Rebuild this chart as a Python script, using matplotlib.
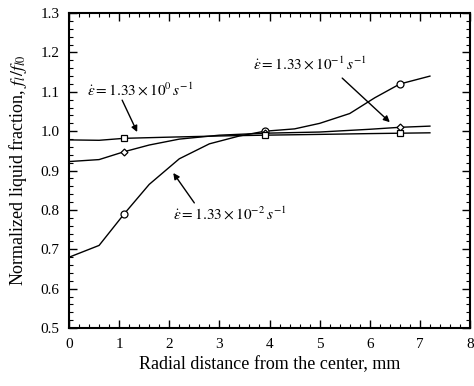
import matplotlib
matplotlib.use('Agg')
import matplotlib.pyplot as plt
from matplotlib.ticker import MultipleLocator, FormatStrFormatter

plt.rcParams['font.family'] = ['Liberation Serif', 'DejaVu Serif']
plt.rcParams['mathtext.fontset'] = 'stix'

# strain rate 1.33e-2 (circles)
x_slow = [0.0, 0.6, 1.1, 1.6, 2.2, 2.8, 3.4, 3.9, 4.5, 5.0, 5.6, 6.1, 6.6, 7.2]
y_slow = [0.68, 0.71, 0.79, 0.865, 0.93, 0.968, 0.988, 1.0, 1.006, 1.02, 1.045, 1.085, 1.12, 1.14]
# strain rate 1.33e-1 (diamonds)
x_mid = [0.0, 0.6, 1.1, 1.6, 2.2, 3.0, 3.9, 5.0, 6.0, 6.6, 7.2]
y_mid = [0.923, 0.928, 0.948, 0.965, 0.98, 0.99, 0.995, 0.998, 1.005, 1.01, 1.013]
# strain rate 1.33e0 (squares)
x_fast = [0.0, 0.6, 1.1, 2.0, 3.0, 3.9, 5.0, 6.0, 6.6, 7.2]
y_fast = [0.978, 0.977, 0.982, 0.985, 0.988, 0.99, 0.992, 0.994, 0.995, 0.996]

marker_x = [1.1, 3.9, 6.6]

fig = plt.figure(figsize=(4.74, 3.86), dpi=100)
ax = fig.add_axes([0.1456, 0.150, 0.846, 0.816])

series = [(x_slow, y_slow, 'o'), (x_mid, y_mid, 'D'), (x_fast, y_fast, 's')]
for xs, ys, m in series:
    ax.plot(xs, ys, color='black', lw=1.0)
    mi = [xs.index(v) for v in marker_x]
    ax.plot([xs[i] for i in mi], [ys[i] for i in mi], ls='none', marker=m,
            ms=5 if m != 'D' else 3.5, mfc='white', mec='black', mew=0.9)

ax.set_xlim(0, 8)
ax.set_ylim(0.5, 1.3)
ax.xaxis.set_major_locator(MultipleLocator(1))
ax.xaxis.set_minor_locator(MultipleLocator(0.2))
ax.yaxis.set_major_locator(MultipleLocator(0.1))
ax.yaxis.set_minor_locator(MultipleLocator(0.02))
ax.yaxis.set_major_formatter(FormatStrFormatter('%.1f'))
ax.tick_params(which='both', direction='in', top=True, right=True, labelsize=11)
ax.tick_params(which='major', length=6, width=1.0, pad=7)
ax.tick_params(which='minor', length=3, width=0.8)
for s in ax.spines.values():
    s.set_linewidth(1.5)

ax.set_xlabel('Radial distance from the center, mm', fontsize=13, labelpad=4)
ax.set_ylabel(r'Normalized liquid fraction, $f_l/f_{l0}$', fontsize=13, labelpad=8)

arrow = dict(arrowstyle='-|>', color='black', lw=1.0, mutation_scale=9, shrinkA=0, shrinkB=0)
ax.text(1.42, 1.105, r'$\dot{\varepsilon}=1.33\times10^{0}\,s^{-1}$', ha='center', va='center', fontsize=11)
ax.annotate('', xy=(1.36, 0.998), xytext=(1.06, 1.079), arrowprops=arrow)
ax.text(4.8, 1.17, r'$\dot{\varepsilon}=1.33\times10^{-1}\,s^{-1}$', ha='center', va='center', fontsize=11)
ax.annotate('', xy=(6.4, 1.023), xytext=(5.45, 1.135), arrowprops=arrow)
ax.text(3.2, 0.79, r'$\dot{\varepsilon}=1.33\times10^{-2}\,s^{-1}$', ha='center', va='center', fontsize=11)
ax.annotate('', xy=(2.08, 0.894), xytext=(2.5, 0.818), arrowprops=arrow)

fig.savefig('out.png', dpi=100)
